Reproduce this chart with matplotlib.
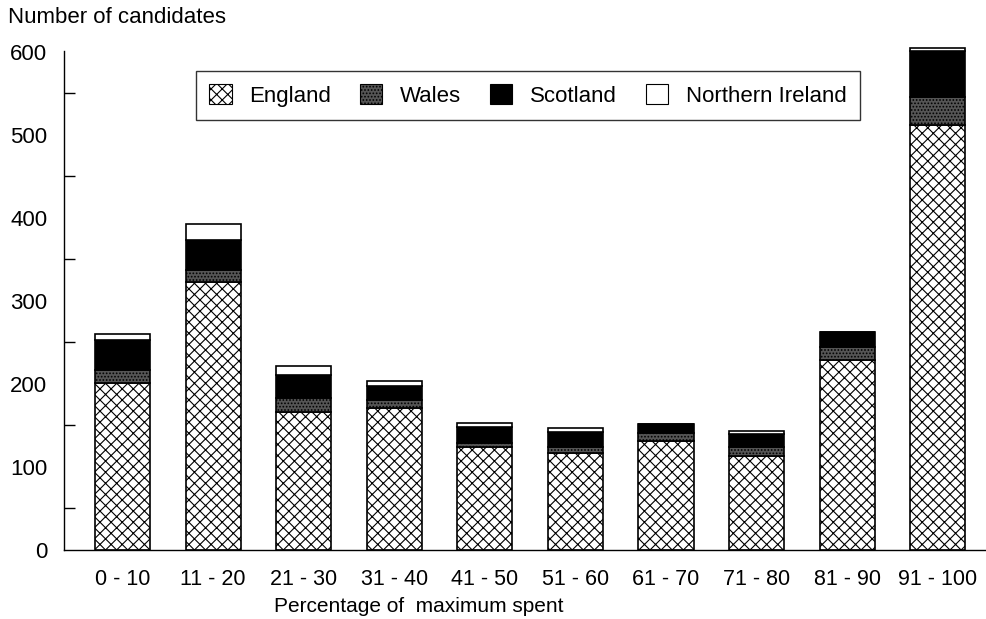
import matplotlib
matplotlib.use('Agg')
import matplotlib.pyplot as plt
import matplotlib.patches as mpatches
import numpy as np

# values (number of candidates)
ranges = ['0 - 10', '11 - 20', '21 - 30', '31 - 40', '41 - 50',
          '51 - 60', '61 - 70', '71 - 80', '81 - 90', '91 - 100']
england = [201, 323, 166, 171, 124, 117, 131, 113, 229, 512]
wales = [16, 14, 17, 10, 5, 7, 10, 11, 16, 34]
scotland = [36, 36, 28, 16, 19, 18, 11, 16, 18, 55]
n_ireland = [7, 20, 11, 7, 5, 5, 0, 3, 0, 4]
y_ticks = [0, 100, 200, 300, 400, 500, 600]
y_minor = [50, 150, 250, 350, 450, 550]

plt.rcParams['font.family'] = ['Liberation Sans', 'DejaVu Sans']
plt.rcParams['hatch.linewidth'] = 0.8

fig = plt.figure(figsize=(9.87, 6.19), dpi=100)
ax = fig.add_axes([0.0648, 0.1115, 0.933, 0.8126])

x = np.arange(len(ranges))
w = 0.61
bottom = np.zeros(len(ranges))

# name, values, face, hatch
series = [
    ('England', england, 'white', 'xxx'),
    ('Wales', wales, '#555555', '.....'),
    ('Scotland', scotland, 'black', None),
    ('Northern Ireland', n_ireland, 'white', None),
]
handles = []
for name, vals, face, hatch in series:
    vals = np.array(vals)
    ax.bar(x, vals, w, bottom=bottom, color=face, edgecolor='black',
           linewidth=1.2, hatch=hatch, zorder=2)
    bottom += vals
    handles.append(mpatches.Patch(facecolor=face, edgecolor='black',
                                  linewidth=0.8, hatch=hatch, label=name))

ax.set_xlim(-0.647, 9.52)
ax.set_ylim(0, 606)

for s in ['top', 'right']:
    ax.spines[s].set_visible(False)
ax.spines['left'].set_bounds(0, 601)
ax.spines['left'].set_linewidth(1.0)
ax.spines['bottom'].set_linewidth(1.0)

ax.set_yticks(y_ticks)
ax.set_yticks(y_minor, minor=True)
ax.tick_params(axis='y', which='major', length=0, pad=12, labelsize=16)
ax.tick_params(axis='y', which='minor', direction='in', length=8, width=1)
ax.set_xticks(x)
ax.set_xticklabels(ranges)
ax.tick_params(axis='x', length=0, pad=14, labelsize=15.5)

ax.set_xlabel('Percentage of  maximum spent', fontsize=15)
ax.xaxis.set_label_coords(0.385, -0.093)

fig.text(0.008, 0.9725, 'Number of candidates', fontsize=16, va='center', ha='left')

leg = ax.legend(handles=handles, ncol=4, loc='center', bbox_to_anchor=(0.504, 0.903),
                fontsize=16, frameon=True, fancybox=False, edgecolor='black',
                handlelength=1.0, handleheight=1.0, handletextpad=0.8,
                columnspacing=1.3, borderpad=0.6)
leg.get_frame().set_linewidth(1.0)

plt.savefig('out.png', dpi=100)
